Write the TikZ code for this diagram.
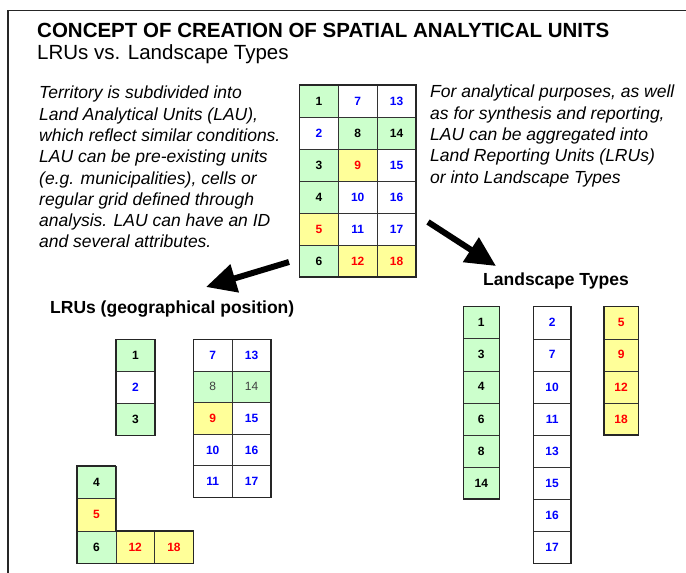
\documentclass[tikz,border=0pt]{standalone}
\usepackage{fontspec}
\setmainfont{Liberation Sans}
\usetikzlibrary{arrows.meta}
\definecolor{cgreen}{HTML}{CCFFCC}
\definecolor{cyel}{HTML}{FFFF99}
\definecolor{cblue}{HTML}{0000FF}
\definecolor{cred}{HTML}{FF0000}
\tikzset{
  cellbase/.style={draw=black!80, line width=0.6pt, inner sep=0pt, font=\bfseries\fontsize{12}{14}\selectfont},
  gc/.style={cellbase, fill=cgreen, text=black},
  wc/.style={cellbase, fill=white, text=cblue},
  yc/.style={cellbase, fill=cyel, text=cred},
  gcl/.style={cellbase, fill=cgreen, text=black!75, font=\fontsize{12}{14}\selectfont},
  blockframe/.style={draw=black!85, line width=1.3pt},
  bigarrow/.style={line width=6pt, -{Triangle[length=30pt,width=28pt]}},
  bodytext/.style={anchor=north west, inner sep=0pt, align=left, font=\itshape\fontsize{17.5}{21.3}\selectfont},
  heading/.style={anchor=base west, inner sep=0pt, font=\bfseries\fontsize{17.5}{20}\selectfont},
}
\newcommand\mycell[7]{\node[#6, minimum width=#4pt, minimum height=#5pt] (#1) at ({#2+#4/2},{#3+#5/2}) {#7};}
\begin{document}
\begin{tikzpicture}[x=1pt,y=-1pt]
\useasboundingbox (0,0) rectangle (686,573);
\fill[white] (0,0) rectangle (686,573);
% frame
\draw[line width=1.3pt, black!85] (8,573) -- (8,10.7) -- (686,10.7);
% titles
\node[anchor=base west, inner sep=0pt, font=\bfseries\fontsize{20.5}{24}\selectfont] (title) at (37,37) {CONCEPT OF CREATION OF SPATIAL ANALYTICAL UNITS};
\node[anchor=base west, inner sep=0pt, font=\fontsize{20.5}{24}\selectfont] (subtitle) at (37,59.5) {LRUs vs. Landscape Types};
% body texts
\node[bodytext] (lefttxt) at (39,86) {Territory is subdivided into\\Land Analytical Units (LAU),\\which reflect similar conditions.\\LAU can be pre-existing units\\(e.g. municipalities), cells or\\regular grid defined through\\analysis. LAU can have an ID\\and several attributes.};
\node[bodytext] (righttxt) at (430,85) {For analytical purposes, as well\\as for synthesis and reporting,\\LAU can be aggregated into\\Land Reporting Units (LRUs)\\or into Landscape Types};
% main grid
\foreach \n/\c/\r/\s in {1/0/0/gc,7/1/0/wc,13/2/0/wc,2/0/1/wc,8/1/1/gc,14/2/1/gc,3/0/2/gc,9/1/2/yc,15/2/2/wc,4/0/3/gc,10/1/3/wc,16/2/3/wc,5/0/4/yc,11/1/4/wc,17/2/4/wc,6/0/5/gc,12/1/5/yc,18/2/5/yc}
  {\mycell{m\n}{299.5+\c*38.8}{85+\r*32}{38.8}{32}{\s}{\n}}
\draw[blockframe] (299.5,85) rectangle (415.9,277);
% arrows
\coordinate (la1) at (289,262);
\coordinate (la2) at (206,287);
\coordinate (ra1) at (428,222);
\coordinate (ra2) at (496,266);
\draw[bigarrow] (la1) -- (la2);
\draw[bigarrow] (ra1) -- (ra2);
% headings
\node[heading] (lruhead) at (50,313) {LRUs (geographical position)};
\node[heading] (lthead) at (483,285) {Landscape Types};
% LRU block A
\foreach \n/\r/\s in {1/0/gc,2/1/wc,3/2/gc}
  {\mycell{a\n}{116}{339.3+\r*32}{39}{32}{\s}{\n}}
\draw[blockframe] (116,339.3) rectangle (155,435.3);
% LRU block B
\foreach \n/\c/\r/\s in {7/0/0/wc,13/1/0/wc,9/0/2/yc,15/1/2/wc,10/0/3/wc,16/1/3/wc,11/0/4/wc,17/1/4/wc}
  {\mycell{b\n}{193.3+\c*38.8}{339.3+\r*31.6}{38.8}{31.6}{\s}{\n}}
\foreach \n/\c/\r/\s in {8/0/1/gcl,14/1/1/gcl}
  {\mycell{b\n}{193.3+\c*38.8}{339.3+\r*31.6}{38.8}{31.6}{\s}{\n}}
\draw[blockframe] (193.3,339.3) rectangle (270.9,497.3);
% LRU L-shape
\foreach \n/\c/\r/\s in {4/0/0/gc,5/0/1/yc,6/0/2/gc,12/1/2/yc,18/2/2/yc}
  {\mycell{c\n}{77+\c*38.8}{466+\r*32.5}{38.8}{32.5}{\s}{\n}}
\draw[blockframe] (77,466) -- (115.8,466) -- (115.8,531) -- (193.4,531) -- (193.4,563.5) -- (77,563.5) -- cycle;
% Landscape types
\foreach \n/\r in {1/0,3/1,4/2,6/3,8/4,14/5}
  {\mycell{p\n}{463.3}{306.7+\r*32.05}{36}{32.05}{gc}{\n}}
\draw[blockframe] (463.3,306.7) rectangle (499.3,499);
\foreach \n/\r in {2/0,7/1,10/2,11/3,13/4,15/5,16/6,17/7}
  {\mycell{q\n}{533.3}{306.7+\r*32.1}{37.7}{32.1}{wc}{\n}}
\draw[blockframe] (533.3,306.7) rectangle (571,563.5);
\foreach \n/\r in {5/0,9/1,12/2,18/3}
  {\mycell{s\n}{604}{306.7+\r*32.1}{34.3}{32.1}{yc}{\n}}
\draw[blockframe] (604,306.7) rectangle (638.3,435.1);
\end{tikzpicture}
\end{document}
